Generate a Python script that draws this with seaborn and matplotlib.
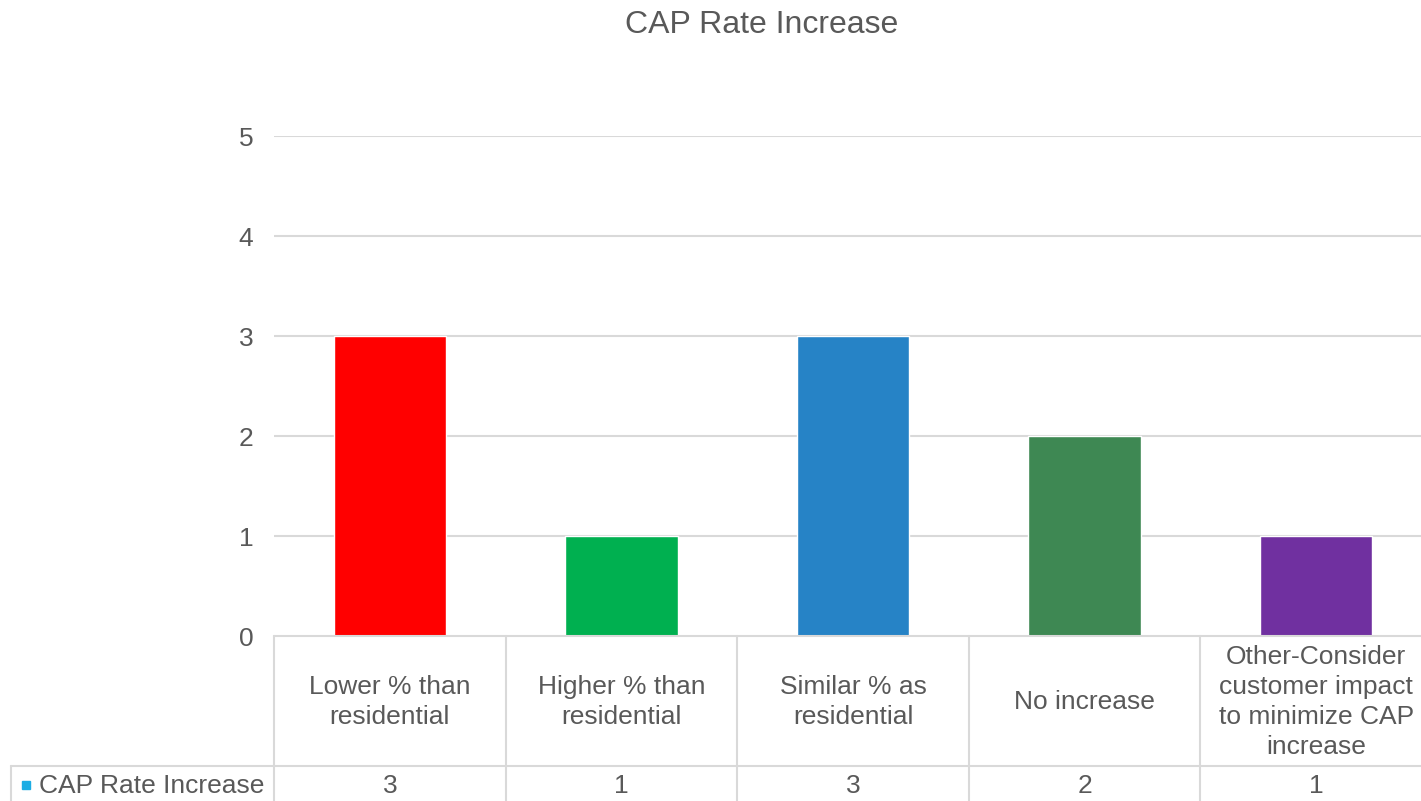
import matplotlib
matplotlib.use("Agg")
import matplotlib.pyplot as plt
import matplotlib.transforms as mtransforms
from matplotlib.lines import Line2D
from matplotlib.patches import Rectangle
import pandas as pd
import seaborn as sns

title = "CAP Rate Increase"
series_name = "CAP Rate Increase"
categories = [
    "Lower % than\nresidential",
    "Higher % than\nresidential",
    "Similar % as\nresidential",
    "No increase",
    "Other-Consider\ncustomer impact\nto minimize CAP\nincrease",
]
values = [3, 1, 3, 2, 1]
bar_colors = ["#FF0000", "#00B050", "#2683C6", "#3E8853", "#7030A0"]
legend_color = "#1CADE4"
y_ticks = [0, 1, 2, 3, 4, 5]

sns.set_theme(style="white")
plt.rcParams["font.family"] = ["Liberation Sans", "DejaVu Sans"]

text_color = "#595959"
grid_color = "#D9D9D9"
fs = 19

W, H = 1421, 801
fig = plt.figure(figsize=(W / 100, H / 100), dpi=100)
ax = fig.add_axes([274 / W, (H - 636) / H, 1158 / W, 500 / H])

df = pd.DataFrame({"category": categories, "value": values})
sns.barplot(data=df, x="category", y="value", hue="category",
            palette=bar_colors, width=0.485, legend=False, ax=ax,
            saturation=1)

ax.set_xlim(-0.5, len(categories) - 0.5)
ax.set_ylim(0, 5)
ax.set_yticks(y_ticks)
ax.set_yticklabels([str(t) for t in y_ticks], fontsize=fs, color=text_color)
ax.tick_params(axis="y", length=0, pad=15)
ax.set_xticks([])
ax.set_xlabel("")
ax.set_ylabel("")
for t in y_ticks[1:]:
    ax.axhline(t, color=grid_color, lw=1.5, zorder=0)
for s in ax.spines.values():
    s.set_visible(False)

fig.text(762 / W, 1 - 25 / H, title, ha="center", va="center",
         fontsize=23, color=text_color)

# Data table below the plot area
trans = mtransforms.blended_transform_factory(ax.transData, ax.transAxes)
px = 1 / 500.0  # axes fraction per pixel (vertical)
header_bottom = -130 * px
table_bottom = -170 * px
n = len(categories)

line_kw = dict(color=grid_color, lw=1.5, clip_on=False, transform=trans)
ax.add_line(Line2D([-0.5, n - 0.5], [0, 0], **line_kw))
ax.add_line(Line2D([-0.5, n - 0.5], [header_bottom, header_bottom], **line_kw))
for i in range(n + 1):
    ax.add_line(Line2D([i - 0.5, i - 0.5], [0, table_bottom], **line_kw))

for i, (cat, val) in enumerate(zip(categories, values)):
    ax.text(i, -66 * px, cat, transform=trans, ha="center",
            va="center", fontsize=fs, color=text_color, linespacing=1.3,
            clip_on=False)
    ax.text(i, -150 * px, str(val), transform=trans, ha="center",
            va="center", fontsize=fs, color=text_color, clip_on=False)

# Series label cell to the left of the values row
fig_trans = fig.transFigure
yb = (H - 766) / H
fig.add_artist(Line2D([11 / W, 274 / W], [yb, yb], color=grid_color, lw=1.5))
fig.add_artist(Line2D([11 / W, 11 / W], [yb, 0], color=grid_color, lw=1.5))
fig.add_artist(Rectangle((22 / W, (H - 789) / H), 8 / W, 8 / H,
                         color=legend_color, transform=fig_trans))
fig.text(39 / W, (H - 786) / H, series_name, ha="left", va="center",
         fontsize=fs, color=text_color)

fig.savefig("out.png", dpi=100, facecolor="white")
